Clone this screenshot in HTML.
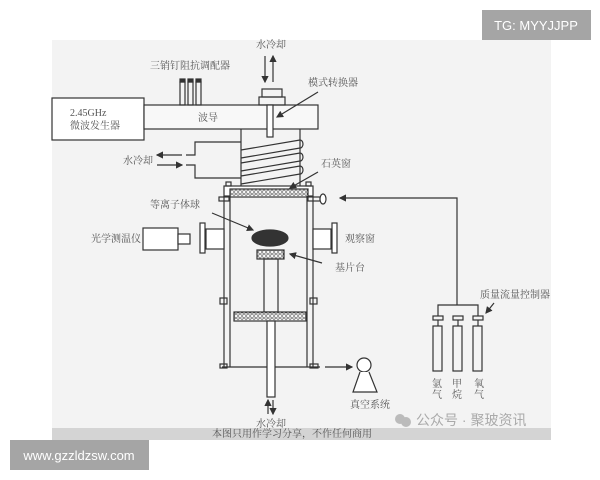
<!DOCTYPE html>
<html><head><meta charset="utf-8"><style>
html,body{margin:0;padding:0;background:#fff;}
svg{display:block}
text{font-family:"Liberation Serif","Noto Serif CJK SC",serif;fill:#555;font-size:10px}
</style></head><body>
<svg width="600" height="480" viewBox="0 0 600 480" xmlns="http://www.w3.org/2000/svg">
<defs>
<pattern id="h" width="4" height="4" patternUnits="userSpaceOnUse"><rect width="4" height="4" fill="#fff"/><circle cx="2" cy="2" r="1.3" fill="none" stroke="#444" stroke-width="0.7"/></pattern>
<marker id="a" markerWidth="6" markerHeight="6" refX="5" refY="3" orient="auto"><path d="M0,0 L6,3 L0,6z" fill="#333"/></marker>
</defs>
<rect x="52" y="40" width="499" height="400" fill="#f3f3f3"/>
<rect x="52" y="428" width="499" height="12" fill="#d4d4d4"/>
<text x="292" y="437" font-size="5.5" text-anchor="middle" fill="#333">本图只用作学习分享，不作任何商用</text>
<rect x="482" y="10" width="109" height="30" fill="#a5a5a5"/>
<text x="536" y="30" text-anchor="middle" style="font-family:'Liberation Sans',sans-serif;fill:#fff;font-size:13px">TG: MYYJJPP</text>
<rect x="10" y="440" width="139" height="30" fill="#a5a5a5"/>
<text x="79" y="460" text-anchor="middle" style="font-family:'Liberation Sans',sans-serif;fill:#fff;font-size:13px">www.gzzldzsw.com</text>
<g stroke="#333" stroke-width="1.2" fill="none">
<rect x="52" y="98" width="92" height="42" fill="#fff"/>
<rect x="144" y="105" width="174" height="24" fill="#f8f8f8"/>
<rect x="180" y="82" width="5" height="23"/><rect x="188" y="82" width="5" height="23"/><rect x="196" y="82" width="5" height="23"/>
<rect x="180" y="79" width="5" height="3" fill="#333"/><rect x="188" y="79" width="5" height="3" fill="#333"/><rect x="196" y="79" width="5" height="3" fill="#333"/>
<rect x="262" y="89" width="20" height="8"/><rect x="259" y="97" width="26" height="8"/>
<rect x="267" y="105" width="6" height="32" fill="#fff"/>
<line x1="265" y1="56" x2="265" y2="82" marker-end="url(#a)"/>
<line x1="273" y1="82" x2="273" y2="56" marker-end="url(#a)"/>
<line x1="318" y1="92" x2="277" y2="117" marker-end="url(#a)"/>
<line x1="241" y1="129" x2="241" y2="186"/><line x1="300" y1="129" x2="300" y2="186"/>
<path d="M241,150 L300,140 A3,4 0 0 1 300,148 L241,158 M241,163 L300,153 A3,4 0 0 1 300,161 L241,171 M241,176 L300,166 A3,4 0 0 1 300,174 L241,184"/>
<path d="M241,142 L195,142 L195,155 L186,155"/>
<path d="M186,165 L195,165 L195,178 L241,178"/>
<line x1="182" y1="155" x2="157" y2="155" marker-end="url(#a)"/>
<line x1="157" y1="165" x2="182" y2="165" marker-end="url(#a)"/>
<rect x="224" y="186" width="89" height="10" fill="#fff"/>
<rect x="230" y="189" width="78" height="8" fill="url(#h)"/>
<rect x="226" y="182" width="5" height="4"/><rect x="306" y="182" width="5" height="4"/>
<rect x="219" y="197" width="10" height="4"/><rect x="308" y="197" width="12" height="4"/>
<ellipse cx="323" cy="199" rx="3" ry="5" fill="#fff"/>
<line x1="318" y1="172" x2="290" y2="188" marker-end="url(#a)"/>
<line x1="224" y1="196" x2="224" y2="367"/><line x1="230" y1="196" x2="230" y2="367"/>
<line x1="307" y1="196" x2="307" y2="367"/><line x1="313" y1="196" x2="313" y2="367"/>
<line x1="222" y1="367" x2="320" y2="367"/>
<rect x="220" y="364" width="7" height="4"/><rect x="310" y="364" width="8" height="4"/>
<rect x="220" y="298" width="7" height="6"/><rect x="310" y="298" width="7" height="6"/>
<rect x="206" y="229" width="18" height="20" fill="#fff"/><rect x="200" y="223" width="5" height="30" fill="#fff"/>
<rect x="313" y="229" width="18" height="20" fill="#fff"/><rect x="332" y="223" width="5" height="30" fill="#fff"/>
<rect x="143" y="228" width="35" height="22" fill="#fff"/><rect x="178" y="234" width="12" height="10" fill="#fff"/>
<ellipse cx="270" cy="238" rx="18" ry="8" fill="#333"/>
<rect x="257" y="250" width="27" height="9" fill="url(#h)"/>
<rect x="264" y="259" width="14" height="53"/>
<rect x="234" y="312" width="72" height="9" fill="url(#h)"/>
<rect x="267" y="321" width="8" height="76" fill="#fff"/>
<line x1="212" y1="213" x2="253" y2="230" marker-end="url(#a)"/>
<line x1="322" y1="263" x2="290" y2="254" marker-end="url(#a)"/>
<line x1="268" y1="414" x2="268" y2="400" marker-end="url(#a)"/>
<line x1="273" y1="400" x2="273" y2="414" marker-end="url(#a)"/>
<line x1="325" y1="367" x2="352" y2="367" marker-end="url(#a)"/>
<circle cx="364" cy="365" r="7" fill="#fff"/>
<path d="M360,372 L353,392 L377,392 L369,372" fill="#fff"/>
<path d="M457,305 L457,198 L340,198" marker-end="url(#a)"/>
<path d="M438,316 L438,305 L478,305 L478,316"/>
<rect x="433" y="316" width="10" height="4"/><rect x="453" y="316" width="10" height="4"/><rect x="473" y="316" width="10" height="4"/>
<line x1="438" y1="320" x2="438" y2="326"/><line x1="458" y1="320" x2="458" y2="326"/><line x1="478" y1="320" x2="478" y2="326"/>
<rect x="433" y="326" width="9" height="45"/><rect x="453" y="326" width="9" height="45"/><rect x="473" y="326" width="9" height="45"/>
<line x1="494" y1="303" x2="486" y2="313" marker-end="url(#a)"/>
</g>
<text x="271" y="48" text-anchor="middle">水冷却</text>
<text x="190" y="69" text-anchor="middle">三销钉阻抗调配器</text>
<text x="333" y="86" text-anchor="middle">模式转换器</text>
<text x="70" y="116">2.45GHz</text>
<text x="70" y="129">微波发生器</text>
<text x="208" y="121" text-anchor="middle">波导</text>
<text x="138" y="164" text-anchor="middle">水冷却</text>
<text x="336" y="167" text-anchor="middle">石英窗</text>
<text x="175" y="208" text-anchor="middle">等离子体球</text>
<text x="116" y="242" text-anchor="middle">光学测温仪</text>
<text x="360" y="242" text-anchor="middle">观察窗</text>
<text x="350" y="271" text-anchor="middle">基片台</text>
<text x="515" y="298" text-anchor="middle">质量流量控制器</text>
<text x="370" y="408" text-anchor="middle">真空系统</text>
<text x="271" y="427" text-anchor="middle">水冷却</text>
<text x="437" y="387" text-anchor="middle">氩</text><text x="437" y="398" text-anchor="middle">气</text>
<text x="457" y="387" text-anchor="middle">甲</text><text x="457" y="398" text-anchor="middle">烷</text>
<text x="479" y="387" text-anchor="middle">氧</text><text x="479" y="398" text-anchor="middle">气</text>
<circle cx="400" cy="419" r="5" fill="#bbb"/><circle cx="406" cy="422" r="5" fill="#bbb"/>
<text x="416" y="425" style="font-family:'Liberation Sans','Noto Sans CJK SC',sans-serif;fill:#aaa;font-size:14px">公众号 · 聚玻资讯</text>
</svg>
</body></html>
